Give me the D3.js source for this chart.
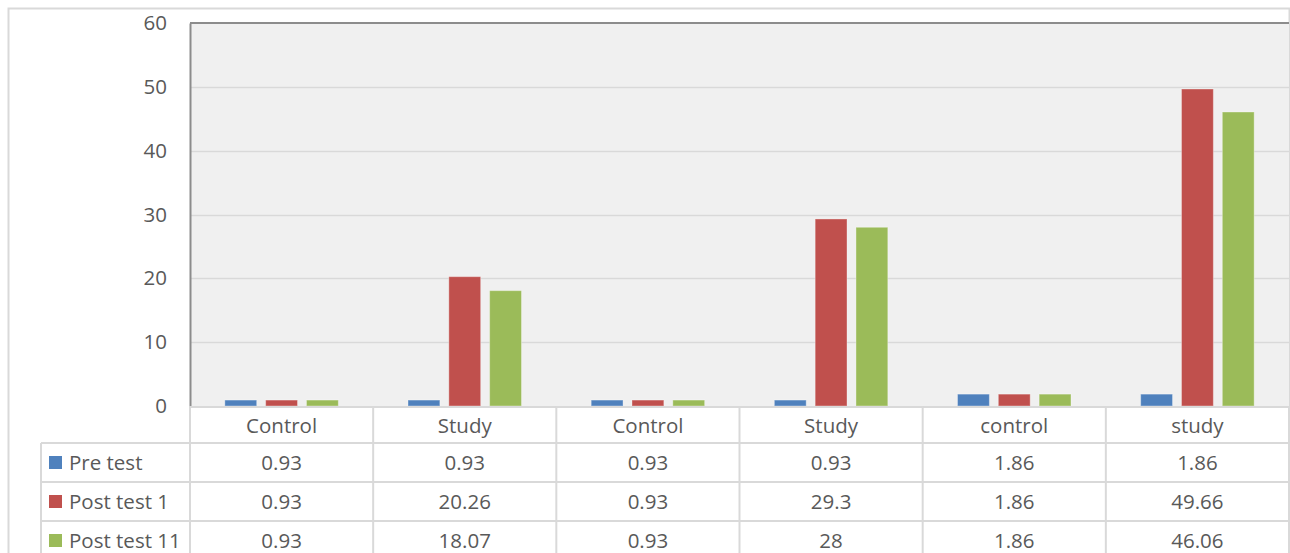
<!DOCTYPE html>
<html>
<head>
<meta charset="utf-8">
<script src="https://cdn.jsdelivr.net/npm/d3@7"></script>
<style>
  html, body { margin: 0; padding: 0; background: #fff; }
  svg { display: block; }
  text { font-family: "Open Sans", "Noto Sans", sans-serif; fill: #595959; }
</style>
</head>
<body>
<svg id="chart" width="1290" height="553"></svg>
<script>
// Groups along the x axis
const categories = ["Control", "Study", "Control", "Study", "control", "study"];
// Series names and their values per group
const seriesNames = ["Pre test", "Post test 1", "Post test 11"];
const preTest    = [0.93, 0.93, 0.93, 0.93, 1.86, 1.86];
const postTest1  = [0.93, 20.26, 0.93, 29.3, 1.86, 49.66];
const postTest11 = [0.93, 18.07, 0.93, 28, 1.86, 46.06];
const seriesColors = ["#4f81bd", "#c0504d", "#9bbb59"];
const yTicks = [0, 10, 20, 30, 40, 50, 60];

const series = [preTest, postTest1, postTest11];
const fontSize = 20.5;

const svg = d3.select("#chart");
const plot = { left: 190, right: 1289, top: 23, bottom: 406 };
const tableLeft = 41;
const rowTop = [406, 443, 482, 521];
const rowBottom = 560;
const gridColor = "#d9d9d9";

// outer chart frame
svg.append("rect")
  .attr("x", 8.5).attr("y", 8.5)
  .attr("width", 1281).attr("height", 560)
  .attr("fill", "#fff").attr("stroke", gridColor).attr("stroke-width", 2);

const x = d3.scaleBand()
  .domain(d3.range(categories.length))
  .range([plot.left, plot.right])
  .paddingInner(0).paddingOuter(0);

const xInner = d3.scaleBand()
  .domain(d3.range(series.length))
  .range([0, x.bandwidth()])
  .paddingInner(9 / 41)
  .paddingOuter(35 / 41);

const y = d3.scaleLinear().domain([0, 60]).range([plot.bottom, plot.top]);

// plot background
svg.append("rect")
  .attr("x", plot.left).attr("y", plot.top)
  .attr("width", plot.right - plot.left).attr("height", plot.bottom - plot.top)
  .attr("fill", "#f0f0f0");

// horizontal gridlines
svg.append("g")
  .selectAll("line")
  .data(yTicks.filter(t => t > 0 && t < 60))
  .join("line")
  .attr("x1", plot.left).attr("x2", plot.right)
  .attr("y1", d => Math.round(y(d)) + 0.5).attr("y2", d => Math.round(y(d)) + 0.5)
  .attr("stroke", gridColor).attr("stroke-width", 1.5);

// top edge of plot
svg.append("line")
  .attr("x1", plot.left).attr("x2", plot.right)
  .attr("y1", plot.top).attr("y2", plot.top)
  .attr("stroke", "#8c8c8c").attr("stroke-width", 2);

// y axis
const yAxis = d3.axisLeft(y).tickValues(yTicks).tickSize(0).tickPadding(23);
const gy = svg.append("g").attr("transform", `translate(${plot.left},0)`).call(yAxis);
gy.select(".domain").attr("stroke", "#8c8c8c").attr("stroke-width", 2);
gy.selectAll("text")
  .attr("font-size", fontSize)
  .attr("font-family", "'Open Sans', 'Noto Sans', sans-serif")
  .attr("fill", "#595959");

// bars
series.forEach((vals, si) => {
  svg.append("g")
    .selectAll("rect")
    .data(vals)
    .join("rect")
    .attr("x", (d, i) => x(i) + xInner(si))
    .attr("width", xInner.bandwidth())
    .attr("y", d => y(d))
    .attr("height", d => y(0) - y(d))
    .attr("fill", seriesColors[si])
    .attr("stroke", "rgba(255,255,255,0.35)")
    .attr("stroke-width", 1);
});

// data table grid
const table = svg.append("g");
const hLine = (x1, x2, yy) => table.append("line")
  .attr("x1", x1).attr("x2", x2).attr("y1", yy).attr("y2", yy)
  .attr("stroke", gridColor).attr("stroke-width", 2);
const vLine = (xx, y1, y2) => table.append("line")
  .attr("x1", xx).attr("x2", xx).attr("y1", y1).attr("y2", y2)
  .attr("stroke", gridColor).attr("stroke-width", 2);

hLine(plot.left, plot.right, rowTop[0] + 1);
rowTop.slice(1).forEach(r => hLine(tableLeft, plot.right, r));
vLine(tableLeft, rowTop[1], rowBottom);
d3.range(categories.length + 1).forEach(i => {
  const xx = i < categories.length ? x(i) : plot.right;
  vLine(xx, rowTop[0], rowBottom);
});

// category header row
table.selectAll("text.cat")
  .data(categories)
  .join("text")
  .attr("class", "cat")
  .attr("x", (d, i) => x(i) + x.bandwidth() / 2)
  .attr("y", (rowTop[0] + rowTop[1]) / 2 + 1)
  .attr("dy", "0.35em")
  .attr("text-anchor", "middle")
  .attr("font-size", fontSize)
  .text(d => d);

// series rows with legend keys and values
series.forEach((vals, si) => {
  const top = rowTop[si + 1];
  const mid = top + 20;
  table.append("rect")
    .attr("x", 49).attr("y", mid - 7)
    .attr("width", 13).attr("height", 13)
    .attr("fill", seriesColors[si]);
  table.append("text")
    .attr("x", 69).attr("y", mid)
    .attr("dy", "0.35em")
    .attr("font-size", fontSize)
    .text(seriesNames[si]);
  table.append("g")
    .selectAll("text")
    .data(vals)
    .join("text")
    .attr("x", (d, i) => x(i) + x.bandwidth() / 2)
    .attr("y", mid)
    .attr("dy", "0.35em")
    .attr("text-anchor", "middle")
    .attr("font-size", fontSize)
    .text(d => d);
});
</script>
</body>
</html>
